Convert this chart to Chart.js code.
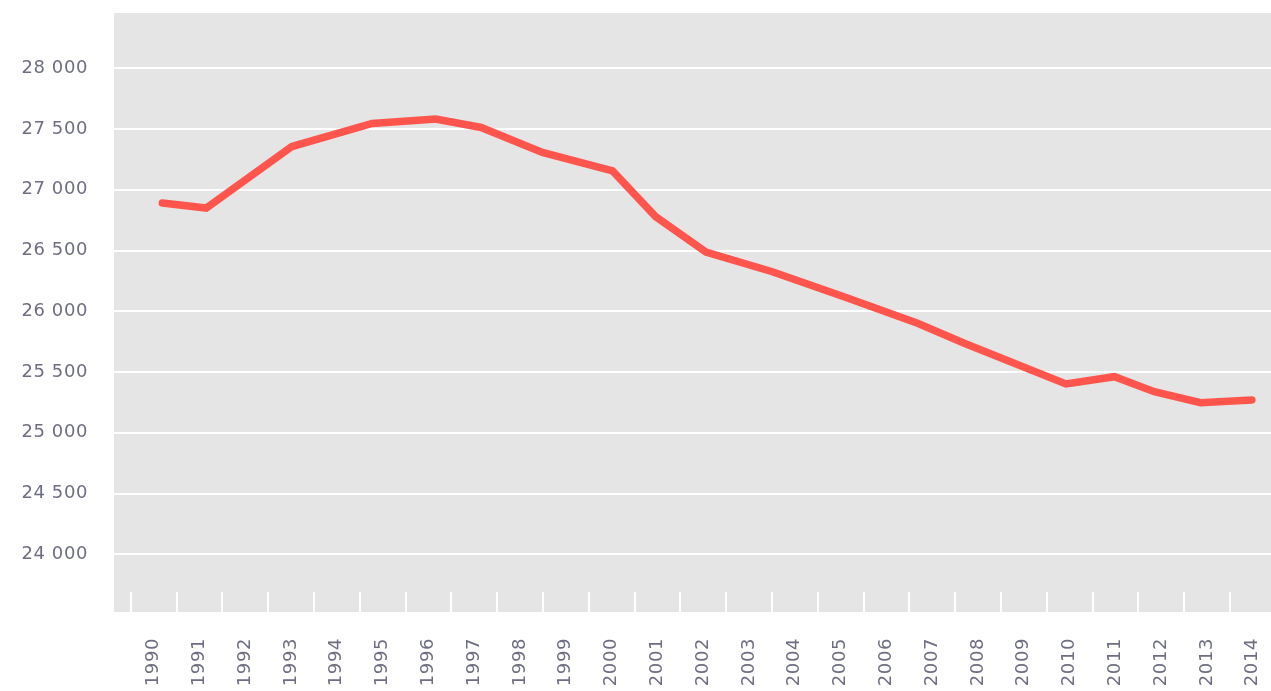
<!DOCTYPE html>
<html>
<head>
<meta charset="utf-8">
<script src="https://cdn.jsdelivr.net/npm/chart.js@4/dist/chart.umd.min.js"></script>
<style>
  html, body { margin: 0; padding: 0; background: #ffffff; }
  #c { display: block; }
</style>
</head>
<body>
<canvas id="c" width="1271" height="691"></canvas>
<script>
// Tick labels (years) on the x axis
const yearLabels = [1990, 1991, 1992, 1993, 1994, 1995, 1996, 1997, 1998, 1999, 2000, 2001, 2002,
  2003, 2004, 2005, 2006, 2007, 2008, 2009, 2010, 2011, 2012, 2013, 2014];
// Y tick values
const yTickValues = [24000, 24500, 25000, 25500, 26000, 26500, 27000, 27500, 28000];
// Series: positions (fractional year) and values
const pointYears = [1990.19, 1991.15, 1993.02, 1994.77, 1996.16, 1997.15, 1998.49, 2000.02, 2000.96,
  2002.06, 2003.51, 2005.15, 2006.68, 2007.70, 2009.92, 2010.98, 2011.85, 2012.86, 2013.98];
const seriesValues = [26891, 26850, 27356, 27546, 27583, 27513, 27307, 27155, 26780,
  26488, 26326, 26109, 25901, 25737, 25402, 25462, 25338, 25248, 25270];

const points = pointYears.map((x, i) => ({ x: x, y: seriesValues[i] }));

function fmt(v) {
  return String(v).replace(/\B(?=(\d{3})+(?!\d))/g, ' ');
}

const bgPlugin = {
  id: 'bg',
  beforeDraw(chart) {
    const { ctx, chartArea } = chart;
    ctx.letterSpacing = '0.6px';
    ctx.save();
    ctx.fillStyle = '#e5e5e5';
    ctx.fillRect(chartArea.left, chartArea.top, chartArea.right - chartArea.left, chartArea.bottom - chartArea.top + 20);
    ctx.restore();
  }
};

const tickFont = { family: 'DejaVu Sans', size: 18 };
const tickColor = '#6e6e82';

new Chart(document.getElementById('c'), {
  type: 'line',
  data: {
    datasets: [{
      data: points,
      borderColor: '#ff554c',
      borderWidth: 7.5,
      borderCapStyle: 'round',
      borderJoinStyle: 'miter',
      pointRadius: 0,
      pointHoverRadius: 0,
      tension: 0,
      fill: false
    }]
  },
  options: {
    responsive: false,
    devicePixelRatio: 1,
    animation: false,
    events: [],
    layout: { padding: { top: 13, right: 0, bottom: 0, left: 0 } },
    plugins: { legend: { display: false }, tooltip: { enabled: false } },
    scales: {
      x: {
        type: 'linear',
        min: 1989.135,
        max: 2014.397,
        afterBuildTicks(scale) {
          scale.ticks = yearLabels.map(v => ({ value: v }));
        },
        afterFit(scale) {
          scale.height = 99;
          scale.paddingLeft = 0; scale.paddingRight = 0;
          scale.paddingTop = 0; scale.paddingBottom = 0;
        },
        border: { display: false },
        grid: {
          offset: true,
          drawOnChartArea: false,
          drawTicks: true,
          tickLength: 20,
          color: '#ffffff',
          lineWidth: 2
        },
        ticks: {
          autoSkip: false,
          minRotation: 90,
          maxRotation: 90,
          padding: 26,
          font: tickFont,
          color: tickColor,
          callback: (v) => String(v)
        }
      },
      y: {
        type: 'linear',
        min: 23690,
        max: 28455,
        afterBuildTicks(scale) {
          scale.ticks = yTickValues.map(v => ({ value: v }));
        },
        afterFit(scale) {
          scale.width = 114;
          scale.paddingLeft = 0; scale.paddingRight = 0;
          scale.paddingTop = 0; scale.paddingBottom = 0;
        },
        border: { display: false },
        grid: {
          drawTicks: false,
          color: '#ffffff',
          lineWidth: 2
        },
        ticks: {
          padding: 26,
          font: tickFont,
          color: tickColor,
          callback: (v) => fmt(v)
        }
      }
    }
  },
  plugins: [bgPlugin]
});
</script>
</body>
</html>
